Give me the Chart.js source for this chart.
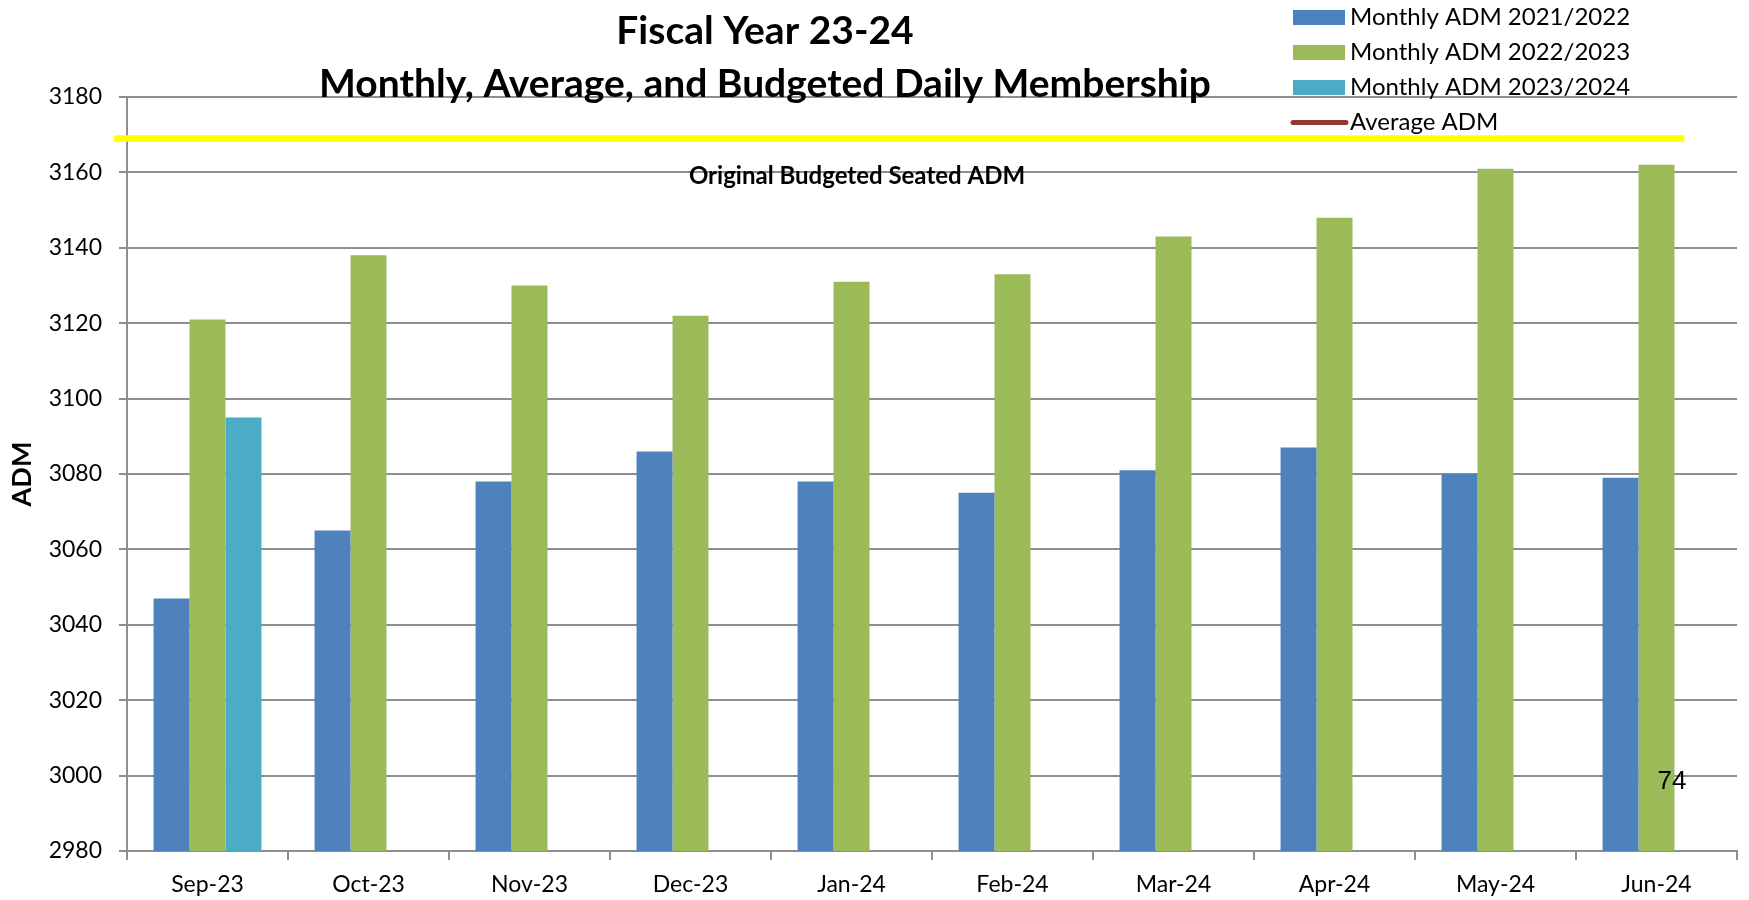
<!DOCTYPE html>
<html>
<head>
<meta charset="utf-8">
<title>Fiscal Year 23-24 ADM</title>
<script src="https://cdn.jsdelivr.net/npm/chart.js@4.4.1/dist/chart.umd.min.js"></script>
<style>
  html, body { margin: 0; padding: 0; background: #fff; }
  #wrap { width: 1749px; height: 900px; }
</style>
</head>
<body>
<div id="wrap"><canvas id="admChart" width="1749" height="900"></canvas></div>
<script>
const months = ["Sep-23", "Oct-23", "Nov-23", "Dec-23", "Jan-24", "Feb-24", "Mar-24", "Apr-24", "May-24", "Jun-24"];
const adm2122 = [3047, 3065, 3078, 3086, 3078, 3075, 3081, 3087, 3080, 3079];
const adm2223 = [3121, 3138, 3130, 3122, 3131, 3133, 3143, 3148, 3161, 3162];
const adm2324 = [3095, null, null, null, null, null, null, null, null, null];
const avgADM = [];
const budgetedADM = 3169;
const titleLines = ["Fiscal Year 23-24", "Monthly, Average, and Budgeted Daily Membership"];
const budgetLabel = "Original Budgeted Seated ADM";
const pageNumber = "74";

const FONT = "Lato, 'Noto Sans', sans-serif";
const GRID = '#8e8e8e';

// title, legend, budget line and page number drawn on top of the chart
const decorPlugin = {
  id: 'decor',
  afterDraw(chart) {
    const ctx = chart.ctx;
    const area = chart.chartArea;
    const y = chart.scales.y;
    const x = chart.scales.x;
    ctx.save();

    // yellow budget line
    const by = y.getPixelForValue(budgetedADM);
    ctx.strokeStyle = '#ffff00';
    ctx.lineWidth = 6.5;
    ctx.beginPath();
    ctx.moveTo(area.left - 13, by);
    ctx.lineTo(x.getPixelForValue(months.length - 1) + 28, by);
    ctx.stroke();

    ctx.fillStyle = '#000';
    ctx.textAlign = 'center';
    ctx.textBaseline = 'middle';
    ctx.font = "bold 24px " + FONT;
    ctx.fillText(budgetLabel, 857, y.getPixelForValue(3158.9));

    // title
    ctx.font = "bold 39px " + FONT;
    ctx.fillText(titleLines[0], 765, 31);
    ctx.fillText(titleLines[1], 765, 84);

    // legend
    ctx.textAlign = 'left';
    ctx.font = "24px " + FONT;
    chart.data.datasets.forEach((ds, i) => {
      const cy = 17.5 + i * 35;
      if (ds.type === 'line') {
        ctx.strokeStyle = ds.borderColor;
        ctx.lineWidth = 5;
        ctx.lineCap = 'round';
        ctx.beginPath();
        ctx.moveTo(1293, cy);
        ctx.lineTo(1346, cy);
        ctx.stroke();
      } else {
        ctx.fillStyle = ds.backgroundColor;
        ctx.fillRect(1293, cy - 7.5, 52, 15);
      }
      ctx.fillStyle = '#000';
      ctx.fillText(ds.label, 1350, cy);
    });

    // page number
    ctx.textAlign = 'center';
    ctx.font = "26px 'Liberation Sans', Arial, sans-serif";
    ctx.fillText(pageNumber, 1672, 782);
    ctx.restore();
  }
};

const ctx = document.getElementById('admChart').getContext('2d');
const chart = new Chart(ctx, {
  type: 'bar',
  data: {
    labels: months,
    datasets: [
      { label: "Monthly ADM 2021/2022", data: adm2122, backgroundColor: '#4f81bd' },
      { label: "Monthly ADM 2022/2023", data: adm2223, backgroundColor: '#9bbb59' },
      { label: "Monthly ADM 2023/2024", data: adm2324, backgroundColor: '#4bacc6' },
      { label: "Average ADM", type: 'line', data: avgADM, borderColor: '#953735', backgroundColor: '#953735' }
    ]
  },
  options: {
    responsive: false,
    animation: false,
    devicePixelRatio: 1,
    layout: { padding: { top: 97, right: 12, left: 0, bottom: 0 } },
    datasets: {
      bar: { categoryPercentage: 0.67, barPercentage: 1.0 }
    },
    plugins: {
      legend: { display: false },
      title: { display: false },
      tooltip: { enabled: false }
    },
    scales: {
      x: {
        offset: true,
        grid: { offset: true, drawOnChartArea: false, color: GRID, lineWidth: 2, tickLength: 9 },
        border: { color: GRID, width: 2 },
        ticks: { color: '#000', padding: 11, font: { family: FONT, size: 23 } },
        afterFit(scale) { scale.height = 49; }
      },
      y: {
        min: 2980,
        max: 3180,
        ticks: {
          stepSize: 20, color: '#000', padding: 17, font: { family: FONT, size: 23 },
          callback: (v) => String(v)
        },
        grid: { color: GRID, lineWidth: 2, tickLength: 8 },
        border: { color: GRID, width: 2 },
        title: { display: true, text: 'ADM', color: '#000', padding: { top: 6, bottom: 0 }, font: { family: FONT, size: 27, weight: 'bold' } },
        afterFit(scale) { scale.width = 127; }
      }
    }
  },
  plugins: [decorPlugin]
});
</script>
</body>
</html>
